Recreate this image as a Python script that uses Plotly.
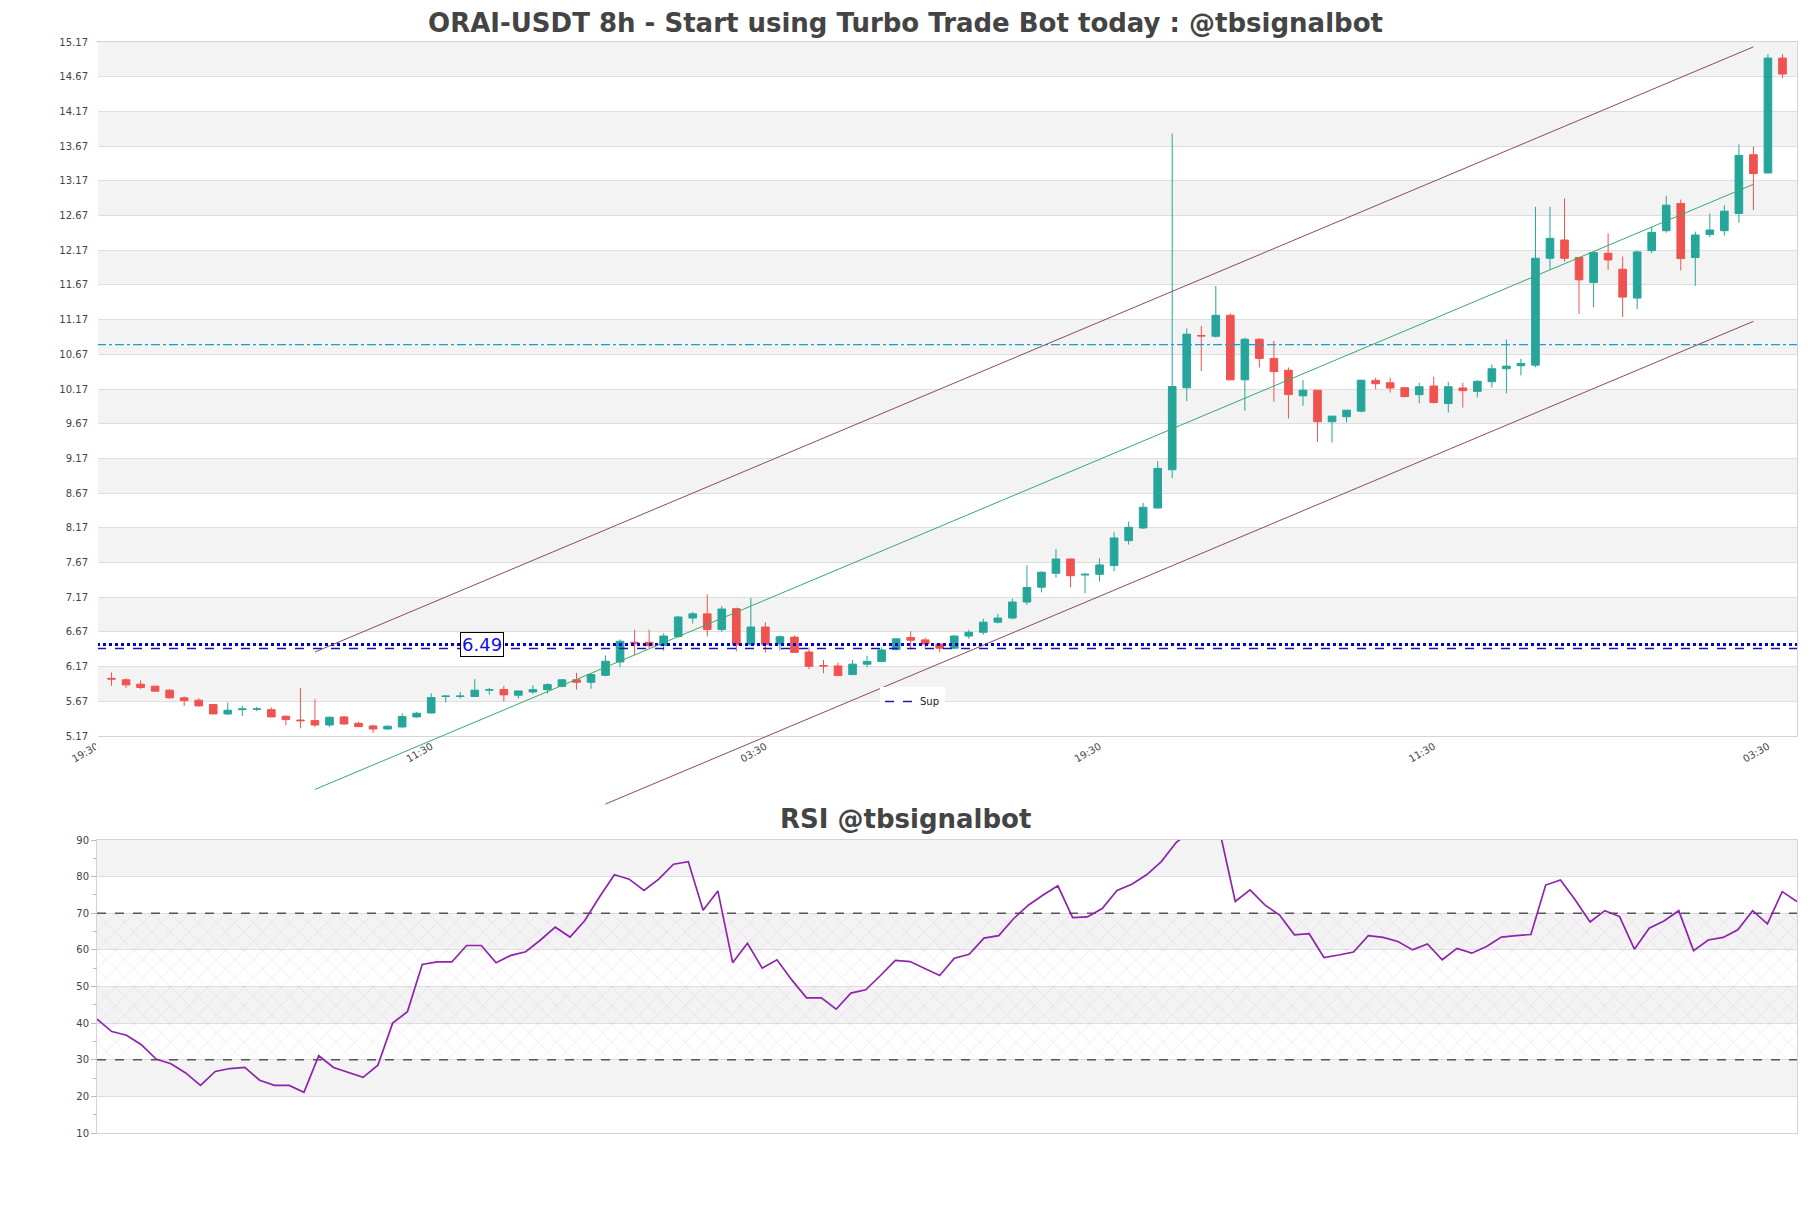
import plotly.graph_objects as go

# ---------------- data ----------------
CANDLE_X = list(range(1, 117))
OPEN = [6.00, 5.98, 5.917, 5.888, 5.83, 5.72, 5.686, 5.623, 5.488, 5.55,
        5.555, 5.55, 5.454, 5.40, 5.392, 5.329, 5.445, 5.353, 5.315, 5.271,
        5.30, 5.445, 5.502, 5.74, 5.74, 5.74, 5.83, 5.84, 5.757, 5.805,
        5.838, 5.886, 5.98, 5.944, 6.045, 6.237, 6.52, 6.52, 6.475, 6.605,
        6.87, 6.93, 6.705, 7.005, 6.485, 6.74, 6.495, 6.595, 6.38, 6.185,
        6.18, 6.055, 6.205, 6.245, 6.415, 6.59, 6.555, 6.495, 6.435, 6.61,
        6.665, 6.81, 6.87, 7.10, 7.314, 7.515, 7.72, 7.49, 7.50, 7.626,
        7.985, 8.168, 8.455, 9.007, 10.187, 10.94, 10.93, 11.232, 10.302, 10.887,
        10.61, 10.44, 10.072, 10.153, 9.698, 9.77, 9.851, 10.294, 10.26, 10.189,
        10.088, 10.213, 9.96, 10.184, 10.136, 10.275, 10.462, 10.505, 10.514, 12.054,
        12.317, 12.064, 11.705, 12.126, 11.896, 11.48, 12.164, 12.451, 12.843, 12.064,
        12.398, 12.451, 12.70, 13.546, 13.283, 14.938]
HIGH = [6.086, 6.00, 5.97, 5.89, 5.845, 5.74, 5.715, 5.625, 5.652, 5.604,
        5.589, 5.58, 5.469, 5.864, 5.70, 5.45, 5.459, 5.377, 5.334, 5.324,
        5.498, 5.517, 5.787, 5.758, 5.806, 5.99, 5.864, 5.893, 5.82, 5.904,
        5.93, 5.99, 6.08, 6.06, 6.33, 6.56, 6.70, 6.70, 6.65, 6.90,
        6.96, 7.21, 7.045, 7.02, 7.16, 6.81, 6.62, 6.62, 6.445, 6.265,
        6.23, 6.265, 6.325, 6.445, 6.58, 6.68, 6.585, 6.51, 6.62, 6.70,
        6.86, 6.93, 7.15, 7.63, 7.54, 7.865, 7.73, 7.52, 7.73, 8.105,
        8.259, 8.527, 9.13, 13.85, 11.045, 11.08, 11.655, 11.26, 10.91, 10.897,
        10.863, 10.48, 10.297, 10.153, 9.78, 9.865, 10.297, 10.332, 10.332, 10.19,
        10.26, 10.347, 10.275, 10.26, 10.30, 10.524, 10.883, 10.605, 12.795, 12.795,
        12.915, 12.064, 12.14, 12.413, 12.078, 12.164, 12.508, 12.953, 12.90, 12.437,
        12.70, 12.819, 13.694, 13.666, 14.995, 14.995]
LOW = [5.893, 5.864, 5.845, 5.806, 5.71, 5.604, 5.594, 5.483, 5.469, 5.459,
       5.527, 5.44, 5.324, 5.28, 5.30, 5.30, 5.334, 5.30, 5.213, 5.26,
       5.29, 5.435, 5.493, 5.652, 5.71, 5.73, 5.768, 5.671, 5.71, 5.78,
       5.78, 5.87, 5.84, 5.85, 6.03, 6.16, 6.34, 6.43, 6.40, 6.585,
       6.79, 6.605, 6.67, 6.39, 6.475, 6.37, 6.40, 6.37, 6.135, 6.075,
       6.035, 6.055, 6.16, 6.235, 6.405, 6.415, 6.445, 6.375, 6.425, 6.57,
       6.63, 6.79, 6.85, 7.06, 7.24, 7.453, 7.314, 7.228, 7.395, 7.544,
       7.928, 8.153, 8.45, 8.887, 9.995, 10.43, 10.91, 10.30, 9.856, 10.48,
       9.985, 9.746, 9.928, 9.41, 9.40, 9.688, 9.832, 10.165, 10.117, 10.05,
       9.964, 9.964, 9.83, 9.902, 10.045, 10.189, 10.107, 10.366, 10.485, 11.896,
       12.006, 11.251, 11.347, 11.887, 11.207, 11.322, 12.126, 12.422, 11.877, 11.657,
       12.355, 12.379, 12.566, 12.748, 13.28, 14.65]
CLOSE = [5.99, 5.907, 5.869, 5.816, 5.72, 5.68, 5.604, 5.488, 5.541, 5.56,
         5.56, 5.445, 5.406, 5.39, 5.329, 5.44, 5.343, 5.305, 5.271, 5.31,
         5.45, 5.498, 5.724, 5.745, 5.745, 5.83, 5.84, 5.763, 5.819, 5.838,
         5.91, 5.98, 5.944, 6.055, 6.247, 6.535, 6.51, 6.47, 6.61, 6.885,
         6.93, 6.705, 7.00, 6.485, 6.74, 6.485, 6.60, 6.375, 6.175, 6.18,
         6.04, 6.205, 6.245, 6.41, 6.57, 6.55, 6.495, 6.435, 6.61, 6.665,
         6.81, 6.87, 7.10, 7.31, 7.53, 7.72, 7.48, 7.50, 7.635, 8.024,
         8.177, 8.465, 9.026, 10.206, 10.96, 10.935, 11.232, 10.302, 10.887, 10.61,
         10.42, 10.09, 10.153, 9.698, 9.779, 9.865, 10.297, 10.246, 10.184, 10.06,
         10.203, 9.974, 10.203, 10.146, 10.28, 10.462, 10.50, 10.538, 12.054, 12.341,
         12.054, 11.743, 12.135, 12.03, 11.494, 12.145, 12.427, 12.819, 12.05, 12.389,
         12.461, 12.733, 13.537, 13.274, 14.938, 14.708]

RSI_X = list(range(1, 117))
RSI = [41.1, 37.7, 36.7, 34.1, 30.2, 28.9, 26.4, 23.0, 26.8, 27.6,
       27.9, 24.4, 23.0, 23.0, 21.1, 31.1, 27.9, 26.5, 25.2, 28.5,
       40.0, 43.1, 56.0, 56.7, 56.7, 61.2, 61.2, 56.5, 58.5, 59.5,
       62.7, 66.2, 63.5, 68.0, 74.5, 80.5, 79.3, 76.2, 79.3, 83.4,
       84.1, 70.8, 76.1, 56.5, 61.8, 55.0, 57.3, 51.8, 46.9, 46.9,
       43.8, 48.2, 49.1, 53.0, 57.1, 56.8, 54.9, 53.0, 57.7, 58.8,
       63.2, 63.9, 68.5, 72.2, 75.0, 77.5, 68.8, 69.0, 71.3, 76.2,
       77.9, 80.5, 84.1, 89.3, 92.5, 91.8, 91.5, 73.2, 76.4, 72.3,
       69.5, 64.1, 64.4, 57.9, 58.6, 59.4, 63.9, 63.4, 62.3, 60.0,
       61.6, 57.3, 60.4, 59.1, 60.9, 63.5, 63.9, 64.2, 77.7, 79.1,
       73.6, 67.6, 70.7, 69.1, 60.2, 65.9, 67.9, 70.7, 59.8, 62.7,
       63.4, 65.5, 70.7, 67.1, 75.9, 73.2]

PRICE_TICKS = [5.17, 5.67, 6.17, 6.67, 7.17, 7.67, 8.17, 8.67, 9.17, 9.67, 10.17,
               10.67, 11.17, 11.67, 12.17, 12.67, 13.17, 13.67, 14.17, 14.67, 15.17]
TIME_TICK_POS = [0, 23, 46, 69, 92, 115]
TIME_TICK_TEXT = ["19:30", "11:30", "03:30", "19:30", "11:30", "03:30"]
RSI_TICKS = [10, 20, 30, 40, 50, 60, 70, 80, 90]

X_RANGE = [0, 117]
PRICE_RANGE = [5.17, 15.17]
RSI_RANGE = [10, 90]

SUP_LEVEL = 6.43
LAST_LEVEL = 6.49
RES_LEVEL = 10.81
RSI_OVERBOUGHT = 70
RSI_OVERSOLD = 30

CH_UPPER_X = [15, 114]
CH_UPPER_Y = [6.38, 15.10]
CH_MID_X = [15, 114]
CH_MID_Y = [4.40, 13.12]
CH_LOWER_X = [35, 114]
CH_LOWER_Y = [4.19, 11.145]

LABEL_X = 26.5

# ---------------- layout geometry ----------------
W, H = 1811, 1208
M_L, M_R, M_T, M_B = 97, 14, 42, 75
PLOT_H = H - M_T - M_B
TOP_DOMAIN = [(H - M_B - 736) / PLOT_H, 1.0]
RSI_DOMAIN = [0.0, (H - M_B - 840) / PLOT_H]
# extended (invisible) axis so channel lines can run below the price panel
EXT = 1.2
TOP_SPAN = TOP_DOMAIN[1] - TOP_DOMAIN[0]
EXT_DOMAIN = [1.0 - TOP_SPAN * (PRICE_RANGE[1] - PRICE_RANGE[0] + EXT) / (PRICE_RANGE[1] - PRICE_RANGE[0]), 1.0]
EXT_RANGE = [PRICE_RANGE[0] - EXT, PRICE_RANGE[1]]

FONT = "DejaVu Sans"
GRID = "#dedede"
BAND = "#f3f3f3"
TXT = "#444444"

fig = go.Figure()

fig.add_trace(go.Candlestick(
    x=CANDLE_X, open=OPEN, high=HIGH, low=LOW, close=CLOSE,
    xaxis="x", yaxis="y", showlegend=False, whiskerwidth=0,
    increasing=dict(line=dict(color="#26a69a", width=1), fillcolor="#26a69a"),
    decreasing=dict(line=dict(color="#ef5350", width=1), fillcolor="#ef5350"),
))

# horizontal levels
fig.add_trace(go.Scatter(x=X_RANGE, y=[RES_LEVEL, RES_LEVEL], mode="lines", showlegend=False,
                         line=dict(color="#1f9bd5", width=1.3, dash="dashdot"), xaxis="x", yaxis="y"))
fig.add_trace(go.Scatter(x=X_RANGE, y=[LAST_LEVEL, LAST_LEVEL], mode="lines", showlegend=False,
                         line=dict(color="#0000d0", width=3, dash="dot"), xaxis="x", yaxis="y"))
fig.add_trace(go.Scatter(x=X_RANGE, y=[SUP_LEVEL, SUP_LEVEL], mode="lines", name="Sup", showlegend=True,
                         line=dict(color="#1a1aa8", width=1.5, dash="dash"), xaxis="x", yaxis="y"))

# channel lines
for cx, cy, col in [(CH_UPPER_X, CH_UPPER_Y, "#8c4a62"), (CH_MID_X, CH_MID_Y, "#3aa86a"),
                    (CH_LOWER_X, CH_LOWER_Y, "#8c4a62")]:
    fig.add_trace(go.Scatter(x=cx, y=cy, mode="lines", showlegend=False,
                             line=dict(color=col, width=1), xaxis="x", yaxis="y3"))

# RSI hatched zone
fig.add_trace(go.Scatter(x=[RSI_X[0], RSI_X[-1]], y=[RSI_OVERSOLD, RSI_OVERSOLD], mode="lines",
                         line=dict(width=0), showlegend=False, xaxis="x2", yaxis="y2"))
fig.add_trace(go.Scatter(x=[RSI_X[0], RSI_X[-1]], y=[RSI_OVERBOUGHT, RSI_OVERBOUGHT], mode="lines",
                         line=dict(width=0), fill="tonexty", fillcolor="rgba(0,0,0,0)",
                         fillpattern=dict(shape="x", fgcolor="rgba(200,150,225,0.85)",
                                          bgcolor="rgba(0,0,0,0)", size=13, solidity=0.07),
                         showlegend=False, xaxis="x2", yaxis="y2"))
for lvl in [RSI_OVERBOUGHT, RSI_OVERSOLD]:
    fig.add_trace(go.Scatter(x=[RSI_X[0], RSI_X[-1]], y=[lvl, lvl], mode="lines", showlegend=False,
                             line=dict(color="#555555", width=1.3, dash="dash"), xaxis="x2", yaxis="y2"))
fig.add_trace(go.Scatter(x=RSI_X, y=RSI, mode="lines", showlegend=False,
                         line=dict(color="#8e24aa", width=1.7), xaxis="x2", yaxis="y2"))

# alternating background bands
shapes = []
for lo, hi in zip(PRICE_TICKS[1::2], PRICE_TICKS[2::2]):
    shapes.append(dict(type="rect", xref="x domain", yref="y", x0=0, x1=1, y0=lo, y1=hi,
                       fillcolor=BAND, line=dict(width=0), layer="below"))
for lo, hi in zip(RSI_TICKS[1::2], RSI_TICKS[2::2]):
    shapes.append(dict(type="rect", xref="x2 domain", yref="y2", x0=0, x1=1, y0=lo, y1=hi,
                       fillcolor=BAND, line=dict(width=0), layer="below"))

axis_common = dict(showline=True, mirror=True, linecolor="#d4d4d4", linewidth=1,
                   tickfont=dict(family=FONT, size=10, color=TXT))

fig.update_layout(
    width=W, height=H,
    margin=dict(l=M_L, r=M_R, t=M_T, b=M_B),
    paper_bgcolor="white", plot_bgcolor="rgba(0,0,0,0)",
    font=dict(family=FONT, color=TXT),
    title=dict(text="<b>ORAI-USDT 8h - Start using Turbo Trade Bot today : @tbsignalbot</b>",
               x=0.5, xanchor="center", y=1 - 23 / H, yanchor="middle",
               font=dict(family=FONT, size=26, color="#444444")),
    xaxis=dict(domain=[0, 1], anchor="y", range=X_RANGE, rangeslider=dict(visible=False),
               showgrid=False, tickmode="array", tickvals=TIME_TICK_POS, ticktext=TIME_TICK_TEXT,
               tickangle=-30, ticks="", **axis_common),
    yaxis=dict(domain=TOP_DOMAIN, anchor="x", range=PRICE_RANGE, tickmode="array",
               tickvals=PRICE_TICKS, ticktext=[f"{v:.2f}" for v in PRICE_TICKS],
               showgrid=True, gridcolor=GRID, ticks="outside", ticklen=6,
               tickcolor="rgba(0,0,0,0)", **axis_common),
    yaxis3=dict(domain=EXT_DOMAIN, anchor="x", range=EXT_RANGE, visible=False),
    xaxis2=dict(domain=[0, 1], anchor="y2", range=[RSI_X[0], RSI_X[-1]], showgrid=False,
                showticklabels=False, ticks="", **axis_common),
    yaxis2=dict(domain=RSI_DOMAIN, anchor="x2", range=RSI_RANGE, tickmode="array",
                tickvals=RSI_TICKS, showgrid=True, gridcolor=GRID, ticks="outside", ticklen=5,
                tickcolor="#bbbbbb", minor=dict(ticks="outside", ticklen=3, dtick=5, tickcolor="#bbbbbb"),
                **axis_common),
    boxgap=0.25,
    shapes=shapes,
    showlegend=True,
    legend=dict(x=(880 - M_L) / (W - M_L - M_R), y=(H - M_B - 687) / PLOT_H, xanchor="left", yanchor="top",
                bgcolor="white", font=dict(family=FONT, size=10, color="#222222"), itemwidth=30),
    annotations=[
        dict(text="<b>RSI @tbsignalbot</b>", xref="paper", yref="paper",
             x=(W / 2 - M_L) / (W - M_L - M_R), y=(H - M_B - 819) / PLOT_H,
             xanchor="center", yanchor="middle", showarrow=False,
             font=dict(family=FONT, size=26, color="#444444")),
        dict(text=f"{LAST_LEVEL:.2f}", xref="x", yref="y", x=LABEL_X, y=LAST_LEVEL,
             showarrow=False, font=dict(family=FONT, size=18, color="#1010e0"),
             bgcolor="white", bordercolor="black", borderwidth=1, borderpad=1),
    ],
)

fig.write_html("out.html", config={"displayModeBar": False},
               post_script="document.body.style.margin='0';document.body.style.overflow='hidden';")
